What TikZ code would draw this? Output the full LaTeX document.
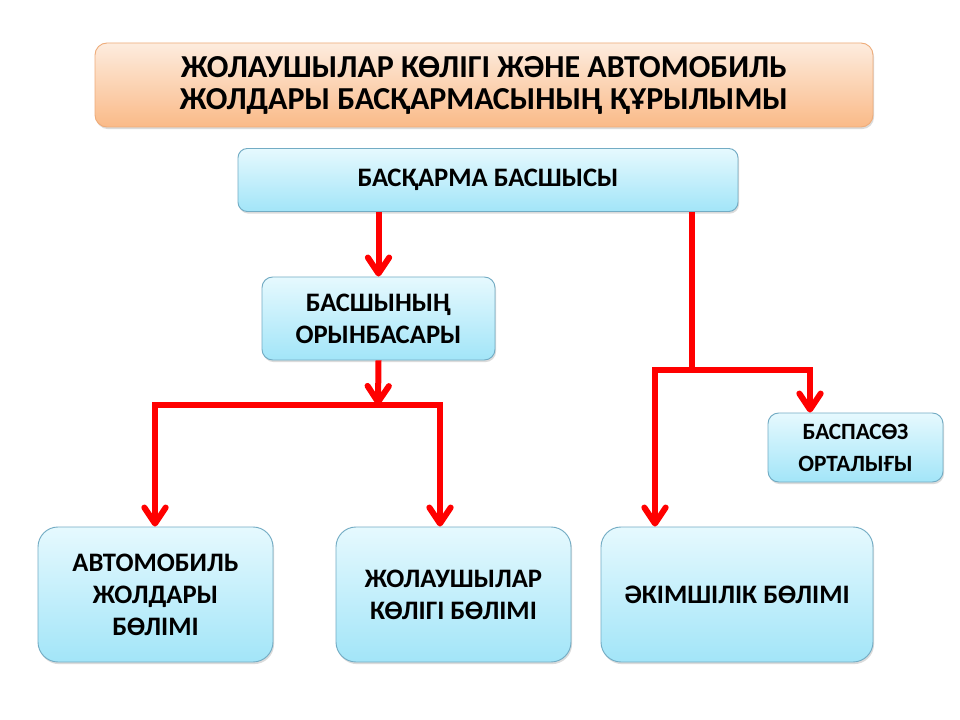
\documentclass[tikz,border=0pt]{standalone}
\usepackage{fontspec}
\setmainfont{Carlito}
\usetikzlibrary{arrows.meta,shadows}
\definecolor{boxtop}{RGB}{230,249,254}
\definecolor{boxbot}{RGB}{162,229,248}
\definecolor{boxline}{RGB}{115,172,196}
\definecolor{ttop}{RGB}{253,236,222}
\definecolor{tbot}{RGB}{250,186,136}
\definecolor{tline}{RGB}{238,172,122}
\definecolor{conred}{RGB}{255,0,0}
\begin{document}
\begin{tikzpicture}[x=0.75pt,y=-0.75pt,
  basebox/.style={rectangle, line width=0.7pt, align=center, inner sep=2pt,
    drop shadow={opacity=0.28, shadow xshift=0.8pt, shadow yshift=-1.6pt}},
  cbox/.style={basebox, draw=boxline, top color=boxtop, bottom color=boxbot,
    rounded corners=#1, font=\bfseries\fontsize{20}{24}\selectfont},
  tbox/.style={basebox, draw=tline, top color=ttop, bottom color=tbot,
    rounded corners=9pt, font=\bfseries\fontsize{24}{24}\selectfont},
  conn/.style={draw=conred, line width=4.5pt, line join=miter},
  arr/.style={conn, -{Straight Barb[length=12pt,width=16pt,round]}}]
\useasboundingbox (0,0) rectangle (960,720);
\fill[white] (0,0) rectangle (960,720);

\node[tbox, minimum width=778*0.75pt, minimum height=84*0.75pt] (title) at (484,85)
  {ЖОЛАУШЫЛАР КӨЛІГІ ЖӘНЕ АВТОМОБИЛЬ\\ЖОЛДАРЫ БАСҚАРМАСЫНЫҢ ҚҰРЫЛЫМЫ};
\node[cbox=7pt, minimum width=500*0.75pt, minimum height=63*0.75pt] (head) at (488,180)
  {БАСҚАРМА БАСШЫСЫ};
\node[cbox=8pt, minimum width=233*0.75pt, minimum height=83*0.75pt] (deputy) at (378.5,318.5)
  {БАСШЫНЫҢ\\ОРЫНБАСАРЫ};
\node[cbox=8pt, minimum width=175*0.75pt, minimum height=69*0.75pt, font=\bfseries\fontsize{17.5}{24}\selectfont] (press) at (855.5,447.5)
  {БАСПАСӨЗ\\ОРТАЛЫҒЫ};
\node[cbox=15pt, minimum width=235*0.75pt, minimum height=135*0.75pt] (road) at (155.5,594.5)
  {АВТОМОБИЛЬ\\ЖОЛДАРЫ\\БӨЛІМІ};
\node[cbox=15pt, minimum width=235*0.75pt, minimum height=135*0.75pt] (pass) at (453.5,594.5)
  {ЖОЛАУШЫЛАР\\КӨЛІГІ БӨЛІМІ};
\node[cbox=15pt, minimum width=272*0.75pt, minimum height=135*0.75pt] (admin) at (737,594.5)
  {ӘКІМШІЛІК БӨЛІМІ};

\coordinate (j1) at (378,405);
\coordinate (b1) at (155,405);
\coordinate (b2) at (440,405);
\coordinate (j2) at (692,370);
\coordinate (b3) at (655,370);
\coordinate (b4) at (810,370);

\draw[arr] (head.south -| deputy.north) -- (deputy.north);
\draw[arr] (deputy.south) -- (j1);
\draw[arr] (b2) -- (b1) -- (road.north -| b1);
\draw[arr] (b1) -- (b2) -- (pass.north -| b2);
\draw[conn] (head.south -| j2) -- (j2);
\draw[arr] (b4) -- (b3) -- (admin.north -| b3);
\draw[arr] (b3) -- (b4) -- (press.north -| b4);
\end{tikzpicture}
\end{document}
